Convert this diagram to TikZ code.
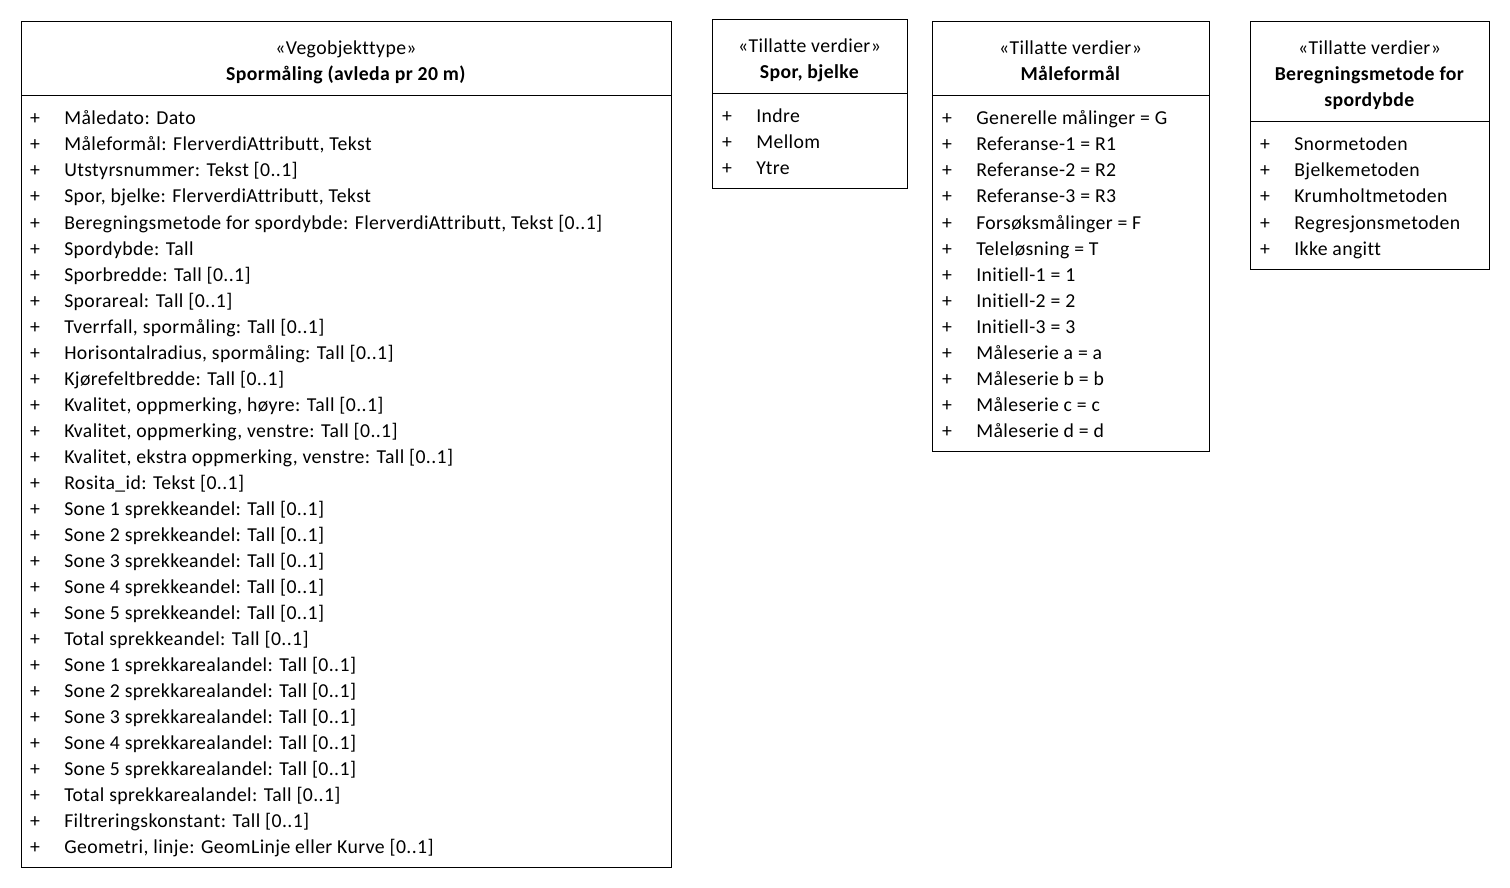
\documentclass[tikz,border=0pt]{standalone}
\usepackage{fontspec}
\setmainfont[Ligatures=NoCommon, LetterSpace=2.0]{Carlito}
\usetikzlibrary{positioning}

\begin{document}
\begin{tikzpicture}[x=0.75pt, y=-0.75pt,
    box style/.style={draw=black, line width=0.75pt},
    head style/.style={anchor=base, inner sep=0pt, yshift=-1.2pt, font=\fontsize{14.8}{17}\selectfont},
    item style/.style={anchor=base west, inner sep=0pt, yshift=-1.5pt, font=\fontsize{14.8}{17}\selectfont},
    plus style/.style={anchor=base, inner sep=0pt, yshift=-1.5pt, font=\fontsize{14.8}{17}\selectfont}
]
\useasboundingbox (0,0) rectangle (1510,888);

% Vegobjekttype
\coordinate (veg nw) at (21,22);
\coordinate (veg se) at (671,867);
\draw[box style] (veg nw) rectangle (veg se);
\draw[box style] (21,96) -- (671,96);
\node[head style] (veg stereo) at (346,53) {«Vegobjekttype»};
\node[head style] (veg name) at (346,79) {\textbf{Spormåling (avleda pr 20 m)}};
\foreach \txt [count=\i from 0] in {
    {Måledato: Dato},
    {Måleformål: FlerverdiAttributt, Tekst},
    {Utstyrsnummer: Tekst [0..1]},
    {Spor, bjelke: FlerverdiAttributt, Tekst},
    {Beregningsmetode for spordybde: FlerverdiAttributt, Tekst [0..1]},
    {Spordybde: Tall},
    {Sporbredde: Tall [0..1]},
    {Sporareal: Tall [0..1]},
    {Tverrfall, spormåling: Tall [0..1]},
    {Horisontalradius, spormåling: Tall [0..1]},
    {Kjørefeltbredde: Tall [0..1]},
    {Kvalitet, oppmerking, høyre: Tall [0..1]},
    {Kvalitet, oppmerking, venstre: Tall [0..1]},
    {Kvalitet, ekstra oppmerking, venstre: Tall [0..1]},
    {Rosita\_id: Tekst [0..1]},
    {Sone 1 sprekkeandel: Tall [0..1]},
    {Sone 2 sprekkeandel: Tall [0..1]},
    {Sone 3 sprekkeandel: Tall [0..1]},
    {Sone 4 sprekkeandel: Tall [0..1]},
    {Sone 5 sprekkeandel: Tall [0..1]},
    {Total sprekkeandel: Tall [0..1]},
    {Sone 1 sprekkarealandel: Tall [0..1]},
    {Sone 2 sprekkarealandel: Tall [0..1]},
    {Sone 3 sprekkarealandel: Tall [0..1]},
    {Sone 4 sprekkarealandel: Tall [0..1]},
    {Sone 5 sprekkarealandel: Tall [0..1]},
    {Total sprekkarealandel: Tall [0..1]},
    {Filtreringskonstant: Tall [0..1]},
    {Geometri, linje: GeomLinje eller Kurve [0..1]}}
{
    \node[plus style] (veg plus \i) at (35,123+26*\i) {+};
    \node[item style] (veg item \i) at (64,123+26*\i) {\txt};
}

% Spor, bjelke
\coordinate (spor nw) at (712,20);
\coordinate (spor se) at (907,189);
\draw[box style] (spor nw) rectangle (spor se);
\draw[box style] (712,94) -- (907,94);
\node[head style] (spor stereo) at (809.5,51) {«Tillatte verdier»};
\node[head style] (spor name) at (809.5,77) {\textbf{Spor, bjelke}};
\foreach \txt [count=\i from 0] in {Indre, Mellom, Ytre}
{
    \node[plus style] (spor plus \i) at (727,121+26*\i) {+};
    \node[item style] (spor item \i) at (756,121+26*\i) {\txt};
}

% Maaleformaal
\coordinate (maal nw) at (932,22);
\coordinate (maal se) at (1209,451);
\draw[box style] (maal nw) rectangle (maal se);
\draw[box style] (932,96) -- (1209,96);
\node[head style] (maal stereo) at (1070.5,53) {«Tillatte verdier»};
\node[head style] (maal name) at (1070.5,79) {\textbf{Måleformål}};
\foreach \txt [count=\i from 0] in {
    {Generelle målinger = G},
    {Referanse-1 = R1},
    {Referanse-2 = R2},
    {Referanse-3 = R3},
    {Forsøksmålinger = F},
    {Teleløsning = T},
    {Initiell-1 = 1},
    {Initiell-2 = 2},
    {Initiell-3 = 3},
    {Måleserie a = a},
    {Måleserie b = b},
    {Måleserie c = c},
    {Måleserie d = d}}
{
    \node[plus style] (maal plus \i) at (947,123+26*\i) {+};
    \node[item style] (maal item \i) at (976,123+26*\i) {\txt};
}

% Beregningsmetode
\coordinate (metode nw) at (1250,22);
\coordinate (metode se) at (1489,269);
\draw[box style] (metode nw) rectangle (metode se);
\draw[box style] (1250,122) -- (1489,122);
\node[head style] (metode stereo) at (1369.5,53) {«Tillatte verdier»};
\node[head style] (metode name) at (1369.5,79) {\textbf{Beregningsmetode for}};
\node[head style] (metode name2) at (1369.5,105) {\textbf{spordybde}};
\foreach \txt [count=\i from 0] in {Snormetoden, Bjelkemetoden, Krumholtmetoden, Regresjonsmetoden, Ikke angitt}
{
    \node[plus style] (metode plus \i) at (1265,149+26*\i) {+};
    \node[item style] (metode item \i) at (1294,149+26*\i) {\txt};
}
\end{tikzpicture}
\end{document}
